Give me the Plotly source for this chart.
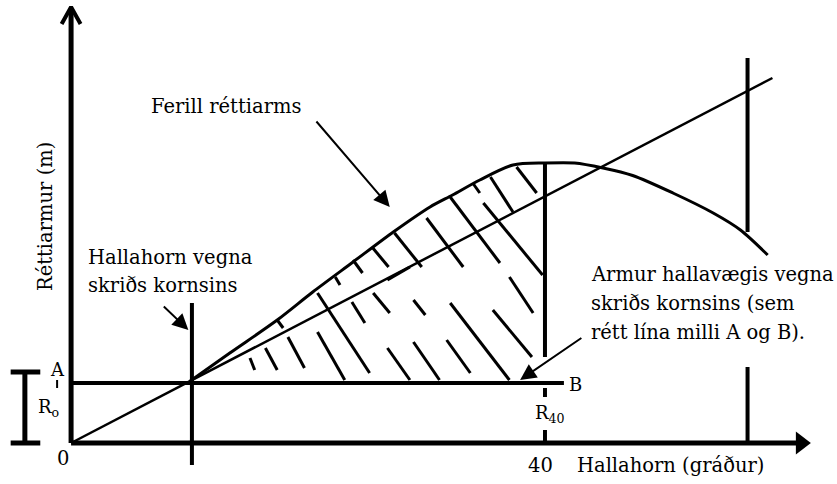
import plotly.graph_objects as go

# ============================================================================
# Data (x = heel angle in degrees, y = righting arm in m)
# ============================================================================

# righting arm curve (GZ)
curve_x = [10.0, 13.4, 17.4, 20.4, 23.8, 27.2, 30.3, 32.2, 34.5, 37.3, 40.0, 42.5,
           44.9, 47.4, 50.8, 54.2, 56.5, 58.8]
curve_y = [0.123, 0.18, 0.246, 0.302, 0.362, 0.422, 0.472, 0.496, 0.526, 0.556, 0.56, 0.56,
           0.55, 0.535, 0.50, 0.46, 0.426, 0.376]

# straight line from origin
diag_x = [0.0, 59.2]
diag_y = [0.0, 0.73]

# heeling arm A-B
ab_x = [0.0, 41.6]
ab_y = [0.12, 0.12]

# vertical marker lines
vline_x = [10.2, 40.0, 57.1, 57.1]
vline_y0 = [0.28, 0.56, 0.77, 0.152]
vline_y1 = [-0.044, 0.172, 0.422, 0.0]

# R40 tick pieces
r40_x = 40.0
r40_y0 = [0.11, 0.026]
r40_y1 = [0.092, 0.0]

# hatch marks inside the area between curve and A-B
hatch_x0 = [15.1, 16.4, 18.3, 20.8, 17.4, 20.8, 22.3, 23.7, 23.8, 25.5, 25.4, 26.7, 27.3,
            28.9, 28.9, 30.0, 32.0, 31.7, 32.0, 33.9, 35.4, 34.8, 35.6, 37.0, 37.6, 26.7]
hatch_y0 = [0.17, 0.19, 0.212, 0.222, 0.246, 0.30, 0.332, 0.282, 0.366, 0.30, 0.392, 0.19, 0.42,
            0.286, 0.202, 0.45, 0.28, 0.206, 0.492, 0.52, 0.532, 0.48, 0.266, 0.332, 0.552, 0.326]
hatch_x1 = [15.5, 17.4, 19.7, 23.1, 17.9, 25.2, 22.7, 24.8, 24.6, 26.9, 26.8, 28.6, 29.6,
            29.9, 31.1, 33.1, 37.0, 33.7, 36.2, 34.5, 37.3, 39.8, 38.9, 39.0, 39.3, 28.6]
hatch_y1 = [0.146, 0.146, 0.15, 0.126, 0.23, 0.14, 0.316, 0.24, 0.34, 0.26, 0.352, 0.126, 0.352,
            0.256, 0.126, 0.352, 0.126, 0.14, 0.36, 0.50, 0.462, 0.336, 0.172, 0.26, 0.50, 0.352]

# labels
ylabel = "Réttiarmur (m)"
xlabel = "Hallahorn (gráður)"
curve_label = "Ferill réttiarms"
angle_lines = ["Hallahorn vegna", "skriðs kornsins"]
angle_line_y = [0.372, 0.316]
arm_lines = ["Armur hallavægis vegna", "skriðs kornsins (sem", "rétt lína milli A og B)."]
arm_line_y = [0.338, 0.28, 0.222]

FONT = "DejaVu Serif"
BLACK = "#000000"


def segs(x0, y0, x1, y1):
    xs, ys = [], []
    for a, b, c, d in zip(x0, y0, x1, y1):
        xs += [a, c, None]
        ys += [b, d, None]
    return xs, ys


fig = go.Figure()

# axes
fig.add_trace(go.Scatter(x=[0, 0], y=[0, 0.868], mode="lines", line=dict(color=BLACK, width=5)))
fig.add_trace(go.Scatter(x=[-0.8, 0, 0.8], y=[0.838, 0.872, 0.838], mode="lines",
                         line=dict(color=BLACK, width=4)))
fig.add_trace(go.Scatter(x=[0, 61.5], y=[0, 0], mode="lines", line=dict(color=BLACK, width=5)))
fig.add_trace(go.Scatter(x=[61.6], y=[0], mode="markers",
                         marker=dict(symbol="triangle-right", size=20, color=BLACK)))

# A-B heeling arm
fig.add_trace(go.Scatter(x=ab_x, y=ab_y, mode="lines", line=dict(color=BLACK, width=4)))

# vertical lines
vx, vy = segs(vline_x, vline_y0, vline_x, vline_y1)
fig.add_trace(go.Scatter(x=vx, y=vy, mode="lines", line=dict(color=BLACK, width=4)))
rx, ry = segs([r40_x] * 2, r40_y0, [r40_x] * 2, r40_y1)
fig.add_trace(go.Scatter(x=rx, y=ry, mode="lines", line=dict(color=BLACK, width=4)))

# hatching
hx, hy = segs(hatch_x0, hatch_y0, hatch_x1, hatch_y1)
fig.add_trace(go.Scatter(x=hx, y=hy, mode="lines", line=dict(color=BLACK, width=3)))

# straight line and GZ curve
fig.add_trace(go.Scatter(x=diag_x, y=diag_y, mode="lines", line=dict(color=BLACK, width=2.5)))
fig.add_trace(go.Scatter(x=curve_x, y=curve_y, mode="lines",
                         line=dict(color=BLACK, width=3, shape="spline", smoothing=0.8)))

# R0 bracket
bx, by = segs([-3.9, -5.1, -5.1], [0.142, 0.142, 0.0], [-3.9, -2.6, -2.6], [0.0, 0.142, 0.0])
fig.add_trace(go.Scatter(x=bx, y=by, mode="lines", line=dict(color=BLACK, width=5)))
fig.add_trace(go.Scatter(x=[-1.18, -1.18], y=[0.126, 0.11], mode="lines", line=dict(color=BLACK, width=2)))

# arrows
for tip, tail in [((26.9, 0.472), (20.6, 0.646)),
                  ((9.9, 0.226), (7.7, 0.276)),
                  ((37.9, 0.126), (43.2, 0.212))]:
    fig.add_annotation(x=tip[0], y=tip[1], ax=tail[0], ay=tail[1], xref="x", yref="y",
                       axref="x", ayref="y", text="", showarrow=True, arrowhead=2,
                       arrowsize=1.6, arrowwidth=2, arrowcolor=BLACK)

# text
txt = dict(showarrow=False, font=dict(family=FONT, size=19.5, color=BLACK), xref="x", yref="y")
fig.add_annotation(x=6.6, y=0.674, text=curve_label, xanchor="left", **txt)
for line, yy in zip(angle_lines, angle_line_y):
    fig.add_annotation(x=1.3, y=yy, text=line, xanchor="left", **txt)
for line, yy in zip(arm_lines, arm_line_y):
    fig.add_annotation(x=43.7, y=yy, text=line, xanchor="left", **txt)
fig.add_annotation(x=50.6, y=-0.045, text=xlabel, **txt)
fig.add_annotation(x=-2.2, y=0.452, text=ylabel, textangle=-90, **txt)
fig.add_annotation(x=39.6, y=-0.045, text="40", **txt)
fig.add_annotation(x=-0.68, y=-0.03, text="0", **txt)
sm = dict(showarrow=False, font=dict(family=FONT, size=18, color=BLACK), xref="x", yref="y")
fig.add_annotation(x=-1.18, y=0.148, text="A", **sm)
fig.add_annotation(x=42.6, y=0.118, text="B", **sm)
fig.add_annotation(x=-1.9, y=0.07, text="R<sub>o</sub>", **sm)
fig.add_annotation(x=40.4, y=0.058, text="R<sub>40</sub>", **sm)

fig.update_layout(
    width=837, height=484,
    margin=dict(l=0, r=0, t=0, b=0),
    paper_bgcolor="white", plot_bgcolor="white",
    showlegend=False,
    xaxis=dict(range=[-6.0, 64.65], visible=False, fixedrange=True),
    yaxis=dict(range=[-0.082, 0.886], visible=False, fixedrange=True),
)

# page body has a default 8px margin; remove it so the figure fills the window
fig.write_html("out.html", config={"displayModeBar": False},
               post_script="document.body.style.margin='0';")
